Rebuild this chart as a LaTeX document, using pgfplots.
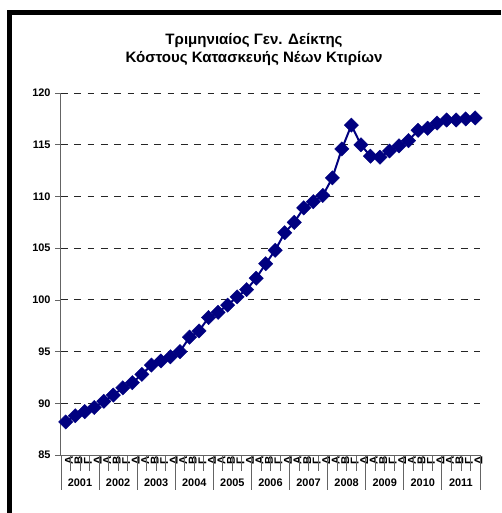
\documentclass[border=0pt]{standalone}
\usepackage{fontspec}
\setmainfont{Liberation Sans}
\usepackage{pgfplots}
\pgfplotsset{compat=1.18}
\definecolor{navyblue}{RGB}{0,0,128}
\definecolor{axisgray}{RGB}{100,100,100}

\begin{document}
\begin{tikzpicture}[x=0.75pt,y=0.75pt]
\useasboundingbox (0,0) rectangle (501,513);
\begin{axis}[
    at={(64,56)}, anchor=south west,
    scale only axis, width=314.25pt, height=271.5pt,
    xmin=0.5, xmax=44.5, ymin=85, ymax=120,
    axis x line=bottom, axis y line=left, axis line style={-, draw=axisgray, line width=0.8pt},
    clip=false,
    ytick={85,90,...,120},
    ymajorgrids, grid style={draw=black!85, line width=0.75pt, dash pattern=on 5pt off 5pt},
    tick align=outside,
    ytick style={draw=axisgray, line width=0.6pt},
    y tick label style={font=\bfseries\fontsize{8.2}{10}\selectfont},
    /pgf/number format/assume math mode=true,
    xtick={1,...,44}, major x tick style={draw=none},
    xticklabels={Α,Β,Γ,Δ,Α,Β,Γ,Δ,Α,Β,Γ,Δ,Α,Β,Γ,Δ,Α,Β,Γ,Δ,Α,Β,Γ,Δ,Α,Β,Γ,Δ,Α,Β,Γ,Δ,Α,Β,Γ,Δ,Α,Β,Γ,Δ,Α,Β,Γ,Δ},
    x tick label style={font=\bfseries\fontsize{8.5}{9}\selectfont, rotate=90, anchor=center, yshift=-2.5pt},
]
\addplot[color=navyblue, line width=1.5pt, mark=square*, mark size=3.8pt,
         mark options={rotate=45, fill=navyblue, draw=navyblue, line width=0.3pt}]
  coordinates {
    (1,88.2) (2,88.8) (3,89.2) (4,89.6) (5,90.2) (6,90.8) (7,91.5) (8,92.0)
    (9,92.8) (10,93.7) (11,94.1) (12,94.5) (13,95.0) (14,96.4) (15,97.0) (16,98.3)
    (17,98.8) (18,99.5) (19,100.3) (20,101.0) (21,102.1) (22,103.5) (23,104.8) (24,106.5)
    (25,107.5) (26,108.9) (27,109.5) (28,110.1) (29,111.8) (30,114.6) (31,116.9) (32,115.0)
    (33,113.9) (34,113.8) (35,114.4) (36,114.9) (37,115.4) (38,116.4) (39,116.6) (40,117.1)
    (41,117.4) (42,117.4) (43,117.5) (44,117.6)
  };
% quarter and year separators under the axis
\pgfplotsinvokeforeach{0,...,44}{
  \draw[axisgray, line width=0.6pt] (axis cs:#1+0.5,85) -- ++(0pt,-12pt);
}
\pgfplotsinvokeforeach{0,...,11}{
  \draw[axisgray, line width=0.6pt] (axis cs:4*#1+0.5,85) -- ++(0pt,-26pt);
}
\pgfplotsinvokeforeach{0,...,10}{
  \node[font=\bfseries\fontsize{8.2}{10}\selectfont] at (axis cs:4*#1+2.5,85) [yshift=-21pt]
    {\pgfmathparse{int(2001+#1)}\pgfmathresult};
}
\end{axis}
% chart frame
\draw[black, line width=4pt, line join=miter] (9.8,0) -- (9.8,500.2) -- (501,500.2);
\node[font=\bfseries\fontsize{11.3}{13.5}\selectfont, align=center] at (254,463)
  {Τριμηνιαίος Γεν. Δείκτης\\Κόστους Κατασκευής Νέων Κτιρίων};
\end{tikzpicture}
\end{document}
